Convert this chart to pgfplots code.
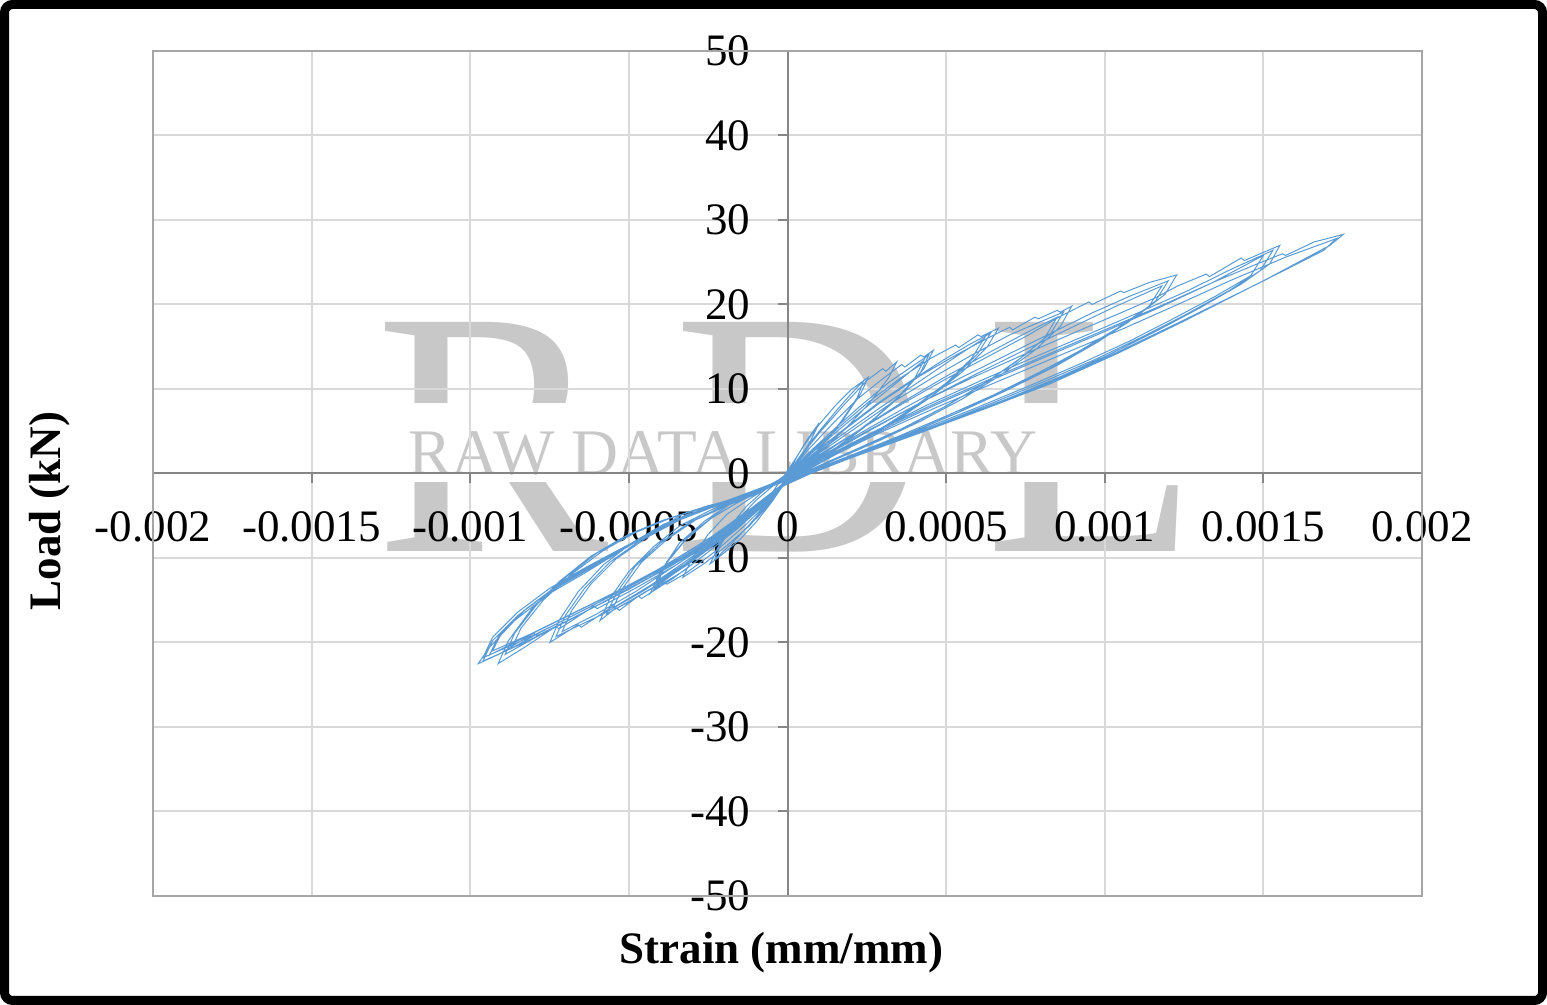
\documentclass[border=0pt]{standalone}
\usepackage{fontspec}
\setmainfont{Liberation Serif}
\usepackage{pgfplots}
\pgfplotsset{compat=1.18}

\definecolor{excelblue}{HTML}{5B9BD5}
\definecolor{gridgray}{HTML}{D9D9D9}
\definecolor{axisgray}{HTML}{868686}
\definecolor{boxgray}{HTML}{A6A6A6}
\definecolor{wmgray}{HTML}{C8C8C8}

\begin{document}
\begin{tikzpicture}
\useasboundingbox (0,0) rectangle (773.5pt,502.5pt);

% watermark
\node[anchor=base west, inner sep=0, text=wmgray, font=\fontsize{175}{175}\selectfont] at (187.5pt,226.5pt) {R};
\node[anchor=base west, inner sep=0, text=wmgray, font=\fontsize{175}{175}\selectfont] at (336.5pt,226.5pt) {D};
\node[anchor=base west, inner sep=0, text=wmgray, font=\fontsize{175}{175}\selectfont] at (492.5pt,226.5pt) {L};
\fill[white] (185pt,261.5pt) rectangle (595pt,301pt);
\node[anchor=base west, inner sep=0, text=wmgray, font=\fontsize{32.5}{32.5}\selectfont] at (204pt,265pt) {RAW DATA LIBRARY};

\begin{axis}[
    at={(76.5pt,54.5pt)}, anchor=south west,
    width=634.5pt, height=422.5pt, scale only axis,
    xmin=-0.002, xmax=0.002, ymin=-50, ymax=50,
    axis lines=middle,
    axis line style={-, draw=axisgray, line width=1pt},
    xtick={-0.002,-0.0015,-0.001,-0.0005,0,0.0005,0.001,0.0015,0.002},
    xticklabels={-0.002,-0.0015,-0.001,-0.0005,0,0.0005,0.001,0.0015,0.002},
    ytick={-50,-40,-30,-20,-10,0,10,20,30,40,50},
    yticklabels={-50,-40,-30,-20,-10,0,10,20,30,40,50},
    scaled x ticks=false,
    hide obscured x ticks=false, hide obscured y ticks=false,
    grid=major, grid style={draw=gridgray, line width=1pt},
    tick align=outside, major tick length=5pt,
    tick style={draw=axisgray, line width=1pt},
    ticklabel style={font=\fontsize{22.5}{27}\selectfont},
    xticklabel style={yshift=-10.5pt},
    yticklabel style={xshift=-10pt},
    clip=false,
]
\draw[boxgray, line width=1.3pt] (rel axis cs:0,0) rectangle (rel axis cs:1,1);
\addplot[excelblue, line width=0.5pt, mark=none] coordinates {
(0,0) (0.3e-4,2.0) (0.6e-4,3.9) (1.0e-4,6.0) (0.8e-4,4.4) (0.5e-4,2.4) (0.2e-4,0.6) (0,-0.6) (-0.3e-4,-2.2) (-0.6e-4,-3.7) (-0.9e-4,-5.0) (-0.7e-4,-3.6) (-0.4e-4,-1.8) (-0.15e-4,-0.5) (0,0.3)
(0.5e-4,3.2) (1.0e-4,5.8) (1.5e-4,8.0) (2.0e-4,9.9) (2.55e-4,11.4) (2.3e-4,9.4) (1.8e-4,6.6) (1.2e-4,3.8) (0.6e-4,1.4) (0.1e-4,-0.5) (-0.1e-4,-1.2) (-0.5e-4,-3.4) (-1.0e-4,-5.8) (-1.5e-4,-7.8) (-2.0e-4,-9.4) (-2.44e-4,-10.7) (-2.2e-4,-8.8) (-1.8e-4,-6.2) (-1.3e-4,-3.9) (-0.8e-4,-2.2) (-0.3e-4,-0.8) (0,0)
(0.5e-4,2.6) (1.0e-4,5.0) (1.6e-4,7.7) (2.0e-4,9.4) (2.4e-4,11.0) (2.2e-4,9.0) (1.7e-4,6.2) (1.1e-4,3.4) (0.5e-4,1.0) (0,-0.8) (-0.5e-4,-3.0) (-1.0e-4,-5.2) (-1.6e-4,-7.7) (-2.3e-4,-10.2) (-2.1e-4,-8.4) (-1.6e-4,-5.6) (-1.0e-4,-3.2) (-0.5e-4,-1.6) (0,-0.2)
(0.5e-4,2.4) (1.0e-4,4.8) (1.8e-4,8.2) (2.5e-4,11.0) (3.0e-4,12.4) (3.1e-4,12.1) (3.44e-4,13.2) (3.2e-4,11.4) (2.6e-4,8.4) (1.8e-4,5.2) (1.0e-4,2.4) (0.4e-4,0.4) (-0.1e-4,-1.2) (-0.6e-4,-3.6) (-1.2e-4,-6.2) (-2.0e-4,-8.8) (-2.6e-4,-10.6) (-3.3e-4,-12.3) (-3.0e-4,-10.0) (-2.5e-4,-7.2) (-1.9e-4,-4.8) (-1.2e-4,-3.0) (-0.5e-4,-1.4) (0,-0.3)
(0.6e-4,2.6) (1.4e-4,5.8) (2.2e-4,8.8) (3.0e-4,11.2) (3.6e-4,12.9) (3.7e-4,12.6) (4.2e-4,14.0) (4.3e-4,13.8) (4.6e-4,14.6) (4.3e-4,12.4) (3.6e-4,9.4) (2.7e-4,6.4) (1.8e-4,3.8) (1.0e-4,1.6) (0.3e-4,-0.2) (-0.1e-4,-1.2) (-0.6e-4,-3.4) (-1.3e-4,-6.0) (-2.2e-4,-9.0) (-3.2e-4,-11.8) (-3.8e-4,-13.1) (-3.9e-4,-12.8) (-4.33e-4,-14.2) (-4.0e-4,-11.6) (-3.4e-4,-8.2) (-2.6e-4,-5.6) (-1.8e-4,-3.6) (-1.0e-4,-2.2) (-0.4e-4,-1.0) (0,-0.2)
(0.6e-4,2.2) (1.4e-4,5.0) (2.3e-4,8.0) (3.2e-4,10.8) (3.9e-4,12.6) (4.45e-4,14.0) (4.2e-4,12.0) (3.5e-4,9.0) (2.6e-4,6.0) (1.7e-4,3.4) (0.9e-4,1.4) (0.2e-4,-0.4) (-0.1e-4,-1.1) (-0.7e-4,-3.5) (-1.5e-4,-6.2) (-2.4e-4,-9.0) (-3.3e-4,-11.6) (-4.2e-4,-13.6) (-3.9e-4,-11.0) (-3.2e-4,-7.8) (-2.4e-4,-5.3) (-1.6e-4,-3.5) (-0.8e-4,-2.0) (0,-0.3)
(0.6e-4,1.9) (1.5e-4,4.8) (2.4e-4,7.6) (3.3e-4,10.3) (4.3e-4,13.4) (4.0e-4,11.2) (3.3e-4,8.3) (2.4e-4,5.4) (1.5e-4,2.9) (0.7e-4,0.9) (0,-0.9) (-0.8e-4,-3.6) (-1.7e-4,-6.4) (-2.6e-4,-9.0) (-3.4e-4,-11.2) (-4.1e-4,-13.0) (-3.8e-4,-10.4) (-3.1e-4,-7.3) (-2.3e-4,-5.0) (-1.5e-4,-3.3) (-0.7e-4,-1.8) (0,-0.3)
(0.7e-4,2.4) (1.6e-4,5.4) (2.6e-4,8.6) (3.6e-4,11.4) (4.5e-4,13.6) (5.3e-4,15.2) (5.4e-4,14.9) (6.0e-4,16.4) (6.1e-4,16.2) (6.65e-4,17.2) (6.3e-4,15.0) (5.5e-4,12.0) (4.5e-4,9.0) (3.4e-4,6.2) (2.3e-4,3.8) (1.2e-4,1.6) (0.3e-4,-0.3) (-0.1e-4,-1.2) (-0.7e-4,-3.6) (-1.6e-4,-6.6) (-2.6e-4,-9.6) (-3.6e-4,-12.4) (-4.6e-4,-14.8) (-4.7e-4,-14.5) (-5.3e-4,-16.2) (-5.4e-4,-15.9) (-5.91e-4,-17.4) (-5.6e-4,-14.8) (-5.0e-4,-11.6) (-4.2e-4,-8.6) (-3.4e-4,-6.2) (-2.4e-4,-4.3) (-1.4e-4,-2.8) (-0.6e-4,-1.4) (0,-0.3)
(0.7e-4,2.0) (1.7e-4,5.0) (2.8e-4,8.2) (3.9e-4,11.0) (4.9e-4,13.4) (5.7e-4,15.2) (6.4e-4,16.6) (6.0e-4,14.2) (5.2e-4,11.2) (4.2e-4,8.4) (3.1e-4,5.6) (2.0e-4,3.2) (1.0e-4,1.2) (0.2e-4,-0.5) (-0.1e-4,-1.1) (-0.8e-4,-3.6) (-1.8e-4,-6.8) (-2.9e-4,-10.0) (-4.0e-4,-13.0) (-5.0e-4,-15.2) (-5.7e-4,-16.6) (-5.4e-4,-14.2) (-4.8e-4,-11.0) (-4.0e-4,-8.2) (-3.1e-4,-5.8) (-2.1e-4,-4.0) (-1.1e-4,-2.5) (-0.4e-4,-1.2) (0,-0.4)
(0.7e-4,1.8) (1.8e-4,4.8) (3.0e-4,8.0) (4.2e-4,11.0) (5.3e-4,13.8) (6.2e-4,16.0) (5.8e-4,13.6) (5.0e-4,10.7) (4.0e-4,7.9) (2.9e-4,5.2) (1.8e-4,2.9) (0.8e-4,0.9) (0,-0.9) (-0.9e-4,-3.7) (-2.0e-4,-7.0) (-3.1e-4,-10.1) (-4.3e-4,-13.2) (-5.5e-4,-15.9) (-5.2e-4,-13.6) (-4.6e-4,-10.5) (-3.8e-4,-7.8) (-2.9e-4,-5.5) (-1.9e-4,-3.8) (-0.9e-4,-2.3) (0,-0.5)
(0.8e-4,2.2) (1.8e-4,5.2) (3.0e-4,8.6) (4.2e-4,11.6) (5.3e-4,14.0) (6.3e-4,16.0) (7.0e-4,17.3) (7.1e-4,17.0) (7.8e-4,18.5) (7.9e-4,18.3) (8.5e-4,19.3) (8.6e-4,19.1) (8.96e-4,19.8) (8.6e-4,17.4) (7.8e-4,14.6) (6.7e-4,11.6) (5.5e-4,8.8) (4.2e-4,6.2) (2.9e-4,3.9) (1.6e-4,1.8) (0.5e-4,0.0) (-0.1e-4,-1.2) (-0.8e-4,-3.8) (-1.8e-4,-7.0) (-3.0e-4,-10.4) (-4.2e-4,-13.4) (-5.4e-4,-16.0) (-5.5e-4,-15.7) (-6.5e-4,-18.2) (-6.6e-4,-17.9) (-7.49e-4,-20.0) (-7.2e-4,-17.4) (-6.6e-4,-14.0) (-5.8e-4,-10.8) (-4.9e-4,-8.2) (-3.9e-4,-6.0) (-2.8e-4,-4.4) (-1.7e-4,-3.0) (-0.7e-4,-1.6) (0,-0.5)
(0.8e-4,1.9) (2.0e-4,5.0) (3.3e-4,8.4) (4.6e-4,11.4) (5.8e-4,14.0) (7.0e-4,16.4) (8.0e-4,18.0) (8.7e-4,19.1) (8.3e-4,16.6) (7.4e-4,13.8) (6.3e-4,10.9) (5.1e-4,8.2) (3.8e-4,5.6) (2.5e-4,3.4) (1.3e-4,1.4) (0.3e-4,-0.4) (-0.1e-4,-1.0) (-0.9e-4,-3.8) (-2.0e-4,-7.2) (-3.2e-4,-10.6) (-4.5e-4,-13.8) (-5.8e-4,-16.6) (-7.3e-4,-19.3) (-7.0e-4,-16.8) (-6.4e-4,-13.6) (-5.6e-4,-10.5) (-4.6e-4,-7.8) (-3.6e-4,-5.7) (-2.5e-4,-4.1) (-1.4e-4,-2.7) (-0.5e-4,-1.3) (0,-0.4)
(0.9e-4,1.8) (2.2e-4,5.0) (3.6e-4,8.4) (5.0e-4,11.5) (6.4e-4,14.4) (7.6e-4,16.8) (8.5e-4,18.5) (8.1e-4,16.0) (7.2e-4,13.2) (6.1e-4,10.4) (4.9e-4,7.8) (3.6e-4,5.3) (2.3e-4,3.1) (1.1e-4,1.1) (0.1e-4,-0.7) (-1.0e-4,-3.9) (-2.2e-4,-7.4) (-3.5e-4,-10.8) (-4.8e-4,-14.0) (-6.0e-4,-16.6) (-7.1e-4,-18.7) (-6.8e-4,-16.2) (-6.2e-4,-13.1) (-5.4e-4,-10.1) (-4.4e-4,-7.5) (-3.4e-4,-5.5) (-2.3e-4,-3.9) (-1.2e-4,-2.5) (-0.4e-4,-1.2) (0,-0.4)
(1.0e-4,2.2) (2.2e-4,5.0) (3.6e-4,8.2) (5.0e-4,11.2) (6.4e-4,14.0) (7.6e-4,16.4) (8.6e-4,18.6) (9.5e-4,20.3) (9.6e-4,20.0) (10.5e-4,21.6) (10.6e-4,21.4) (11.4e-4,22.6) (12.27e-4,23.5) (11.9e-4,21.2) (11.0e-4,18.6) (9.8e-4,15.6) (8.5e-4,12.8) (7.0e-4,10.0) (5.5e-4,7.4) (4.0e-4,5.0) (2.5e-4,2.8) (1.2e-4,0.9) (0.2e-4,-0.6) (-0.1e-4,-1.3) (-1.0e-4,-4.2) (-2.2e-4,-7.6) (-3.5e-4,-10.8) (-4.8e-4,-13.6) (-6.0e-4,-16.0) (-6.1e-4,-15.7) (-7.2e-4,-18.4) (-7.3e-4,-18.1) (-8.3e-4,-20.6) (-9.12e-4,-22.5) (-8.8e-4,-19.8) (-8.1e-4,-16.2) (-7.2e-4,-12.8) (-6.2e-4,-9.8) (-5.2e-4,-7.6) (-4.1e-4,-5.8) (-3.0e-4,-4.4) (-1.9e-4,-3.2) (-0.9e-4,-1.8) (0,-0.5)
(1.0e-4,1.9) (2.4e-4,5.0) (3.9e-4,8.2) (5.4e-4,11.2) (6.9e-4,14.0) (8.3e-4,16.6) (9.6e-4,19.0) (10.8e-4,21.0) (12.0e-4,22.8) (11.6e-4,20.4) (10.7e-4,17.8) (9.5e-4,15.0) (8.2e-4,12.3) (6.8e-4,9.7) (5.3e-4,7.1) (3.8e-4,4.7) (2.4e-4,2.6) (1.1e-4,0.7) (0.1e-4,-0.8) (-0.1e-4,-1.2) (-1.0e-4,-4.0) (-2.3e-4,-7.6) (-3.6e-4,-10.7) (-4.9e-4,-13.5) (-6.2e-4,-16.0) (-7.6e-4,-18.7) (-8.9e-4,-21.4) (-8.6e-4,-18.9) (-7.9e-4,-15.5) (-7.0e-4,-12.3) (-6.0e-4,-9.4) (-5.0e-4,-7.2) (-3.9e-4,-5.5) (-2.8e-4,-4.2) (-1.7e-4,-3.0) (-0.8e-4,-1.7) (0,-0.5)
(1.0e-4,1.7) (2.5e-4,4.9) (4.1e-4,8.2) (5.7e-4,11.3) (7.3e-4,14.3) (8.8e-4,17.0) (10.3e-4,19.7) (11.8e-4,22.2) (11.4e-4,19.8) (10.4e-4,17.2) (9.2e-4,14.5) (7.9e-4,11.9) (6.5e-4,9.3) (5.0e-4,6.8) (3.5e-4,4.4) (2.1e-4,2.3) (0.8e-4,0.4) (-0.1e-4,-1.1) (-1.1e-4,-4.0) (-2.4e-4,-7.5) (-3.8e-4,-10.8) (-5.2e-4,-13.8) (-6.6e-4,-16.5) (-7.8e-4,-18.8) (-8.7e-4,-20.7) (-8.4e-4,-18.3) (-7.7e-4,-15.0) (-6.8e-4,-11.9) (-5.8e-4,-9.1) (-4.8e-4,-7.0) (-3.7e-4,-5.3) (-2.6e-4,-4.0) (-1.5e-4,-2.8) (-0.6e-4,-1.5) (0,-0.5)
(1.1e-4,2.0) (2.6e-4,5.2) (4.2e-4,8.4) (5.8e-4,11.3) (7.4e-4,14.0) (9.0e-4,16.6) (10.5e-4,19.0) (11.6e-4,20.8) (12.3e-4,22.2) (13.2e-4,23.6) (13.3e-4,23.3) (14.3e-4,25.5) (14.4e-4,25.2) (15.52e-4,27.0) (15.2e-4,24.8) (14.3e-4,22.4) (13.0e-4,19.6) (11.6e-4,16.8) (10.1e-4,14.0) (8.5e-4,11.3) (6.9e-4,8.8) (5.2e-4,6.3) (3.5e-4,3.9) (1.9e-4,1.7) (0.6e-4,-0.2) (-0.1e-4,-1.4) (-1.0e-4,-4.2) (-2.3e-4,-7.8) (-3.7e-4,-11.0) (-5.1e-4,-13.9) (-6.5e-4,-16.6) (-7.9e-4,-19.2) (-8.0e-4,-18.9) (-9.1e-4,-21.4) (-9.75e-4,-22.5) (-9.4e-4,-20.6) (-8.6e-4,-17.4) (-7.5e-4,-14.2) (-6.4e-4,-11.8) (-5.4e-4,-9.5) (-4.3e-4,-7.0) (-3.3e-4,-4.8) (-2.5e-4,-3.8) (-1.8e-4,-3.2) (-0.9e-4,-2.1) (0,-0.8)
(1.1e-4,1.8) (2.7e-4,4.9) (4.4e-4,8.1) (6.1e-4,11.0) (7.8e-4,13.8) (9.5e-4,16.5) (11.1e-4,19.1) (12.6e-4,21.6) (14.0e-4,24.2) (15.3e-4,26.4) (14.9e-4,24.0) (13.9e-4,21.6) (12.6e-4,18.9) (11.2e-4,16.2) (9.7e-4,13.5) (8.1e-4,10.9) (6.5e-4,8.4) (4.9e-4,6.0) (3.3e-4,3.7) (1.8e-4,1.6) (0.5e-4,-0.3) (-0.1e-4,-1.3) (-1.1e-4,-4.3) (-2.5e-4,-8.0) (-3.9e-4,-11.2) (-5.3e-4,-14.0) (-6.8e-4,-16.9) (-8.2e-4,-19.5) (-9.6e-4,-21.8) (-9.3e-4,-19.4) (-8.5e-4,-16.4) (-7.5e-4,-13.6) (-6.4e-4,-11.2) (-5.3e-4,-9.0) (-4.2e-4,-6.8) (-3.2e-4,-4.9) (-2.2e-4,-3.8) (-1.3e-4,-2.6) (-0.4e-4,-1.3) (0,-0.6)
(1.1e-4,1.7) (2.8e-4,4.8) (4.6e-4,8.0) (6.4e-4,11.0) (8.2e-4,13.9) (10.0e-4,16.8) (11.7e-4,19.6) (13.4e-4,22.6) (15.0e-4,25.8) (14.6e-4,23.4) (13.5e-4,21.0) (12.2e-4,18.4) (10.8e-4,15.7) (9.3e-4,13.1) (7.7e-4,10.5) (6.1e-4,8.0) (4.5e-4,5.6) (3.0e-4,3.4) (1.6e-4,1.3) (0.4e-4,-0.5) (-0.1e-4,-1.3) (-1.1e-4,-4.2) (-2.5e-4,-7.8) (-3.9e-4,-11.0) (-5.3e-4,-13.8) (-6.8e-4,-16.6) (-8.1e-4,-19.0) (-9.3e-4,-21.0) (-9.0e-4,-18.8) (-8.2e-4,-15.9) (-7.2e-4,-13.1) (-6.1e-4,-10.7) (-5.0e-4,-8.4) (-3.9e-4,-6.3) (-2.9e-4,-4.6) (-1.9e-4,-3.5) (-1.0e-4,-2.2) (0,-0.6)
(1.2e-4,1.9) (2.8e-4,5.0) (4.6e-4,8.2) (6.4e-4,11.2) (8.2e-4,14.1) (10.0e-4,17.0) (11.8e-4,19.9) (13.4e-4,22.6) (14.8e-4,24.8) (15.6e-4,26.0) (15.7e-4,25.8) (16.6e-4,27.4) (17.52e-4,28.3) (17.1e-4,27.0) (15.1e-4,23.0) (12.48e-4,18.0) (10.4e-4,14.2) (8.27e-4,10.6) (6.4e-4,7.9) (4.6e-4,5.4) (2.8e-4,3.0) (1.2e-4,0.8) (-0.2e-4,-1.6) (-1.1e-4,-4.4) (-2.5e-4,-8.2) (-4.0e-4,-11.6) (-5.5e-4,-14.6) (-7.0e-4,-17.6) (-8.4e-4,-20.2) (-9.6e-4,-22.2) (-9.3e-4,-19.8) (-8.5e-4,-16.8) (-7.5e-4,-14.0) (-6.4e-4,-11.6) (-5.3e-4,-9.2) (-4.2e-4,-6.9) (-3.2e-4,-4.9) (-2.3e-4,-3.8) (-1.4e-4,-2.8) (-0.5e-4,-1.5) (0,-0.7)
(1.2e-4,1.7) (2.9e-4,4.8) (4.8e-4,8.0) (6.7e-4,11.0) (8.6e-4,14.0) (10.5e-4,17.0) (12.3e-4,20.0) (14.0e-4,22.9) (15.7e-4,25.6) (17.3e-4,27.8) (16.9e-4,26.4) (14.9e-4,22.6) (12.3e-4,17.8) (10.2e-4,14.0) (8.1e-4,10.5) (6.2e-4,7.7) (4.4e-4,5.1) (2.7e-4,2.8) (1.1e-4,0.6) (-0.2e-4,-1.5) (-1.1e-4,-4.2) (-2.6e-4,-8.0) (-4.1e-4,-11.4) (-5.6e-4,-14.4) (-7.1e-4,-17.2) (-8.4e-4,-19.6) (-9.4e-4,-21.5) (-9.1e-4,-19.2) (-8.3e-4,-16.2) (-7.3e-4,-13.4) (-6.2e-4,-11.0) (-5.1e-4,-8.7) (-4.0e-4,-6.5) (-3.0e-4,-4.7) (-2.0e-4,-3.6) (-1.0e-4,-2.2) (0,-0.6)
};
\end{axis}

% axis titles
\node[font=\bfseries\fontsize{22.5}{27}\selectfont] at (390.75pt,26pt) {Strain (mm/mm)};
\node[font=\bfseries\fontsize{22.5}{27}\selectfont, rotate=90] at (25pt,247pt) {Load (kN)};

% outer frame
\draw[black, line width=4.5pt, rounded corners=4pt] (2.25pt,2.25pt) rectangle (771.25pt,500.25pt);
\end{tikzpicture}
\end{document}
